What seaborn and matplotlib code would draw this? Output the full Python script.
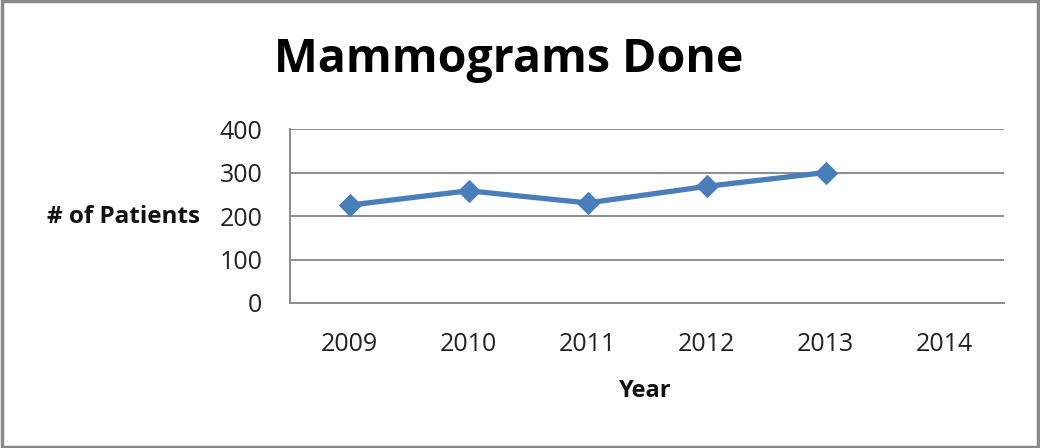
import matplotlib
matplotlib.use("Agg")
import matplotlib.pyplot as plt
import seaborn as sns
import pandas as pd
from matplotlib.patches import Rectangle

# Data
years = ["2009", "2010", "2011", "2012", "2013", "2014"]
patients = [225, 258, 230, 268, 300]
y_ticks = [0, 100, 200, 300, 400]

sns.set_style("white")
plt.rcParams["font.family"] = ["Open Sans", "DejaVu Sans"]

df = pd.DataFrame({"pos": list(range(len(patients))), "patients": patients})

W, H = 1040, 448
fig = plt.figure(figsize=(W / 100, H / 100), dpi=100)
ax = fig.add_axes([290 / W, 1 - 303 / H, (1004 - 290) / W, (303 - 129) / H])

grid_color = "#8c8c8c"
line_color = "#4a7ebb"

sns.lineplot(data=df, x="pos", y="patients", ax=ax, color=line_color,
             linewidth=3.8, marker="D", markersize=11,
             markeredgecolor=line_color, markerfacecolor=line_color)

ax.set_xlim(-0.5, len(years) - 0.5)
ax.set_ylim(0, 400)

# category labels centred, tick marks between categories
ax.set_xticks(range(len(years)))
ax.set_xticklabels(years)
ax.set_xticks([i - 0.5 for i in range(len(years) + 1)], minor=True)
ax.tick_params(axis="x", which="major", length=0, pad=21, labelsize=18, colors="#222222")
ax.tick_params(axis="x", which="minor", length=8, width=1.3, color=grid_color, direction="out")

ax.set_yticks(y_ticks)
ax.tick_params(axis="y", length=10, width=1.3, color=grid_color, direction="inout",
               pad=15, labelsize=18, labelcolor="#222222")
ax.yaxis.grid(True, color=grid_color, linewidth=1.4)
ax.set_axisbelow(True)

for side in ("top", "right"):
    ax.spines[side].set_visible(False)
for side in ("left", "bottom"):
    ax.spines[side].set_color(grid_color)
    ax.spines[side].set_linewidth(1.4)

ax.set_xlabel("")
ax.set_ylabel("")
fig.text(645 / W, 1 - 397 / H, "Year", fontsize=17, fontweight="bold",
         ha="center", va="baseline", color="#111111")
fig.text(123.5 / W, 1 - 223 / H, "# of Patients", fontsize=17.5, fontweight="bold",
         ha="center", va="baseline", color="#111111")

fig.text(509 / W, 1 - 72 / H, "Mammograms Done", fontsize=33.5, fontweight="bold",
         ha="center", va="baseline", color="#000000")

# outer frame
fig.patches.append(Rectangle((0.0015, 0.003), 0.997, 0.994, transform=fig.transFigure,
                             fill=False, edgecolor="#8a8a8a", linewidth=2.5))

fig.savefig("out.png", dpi=100)
